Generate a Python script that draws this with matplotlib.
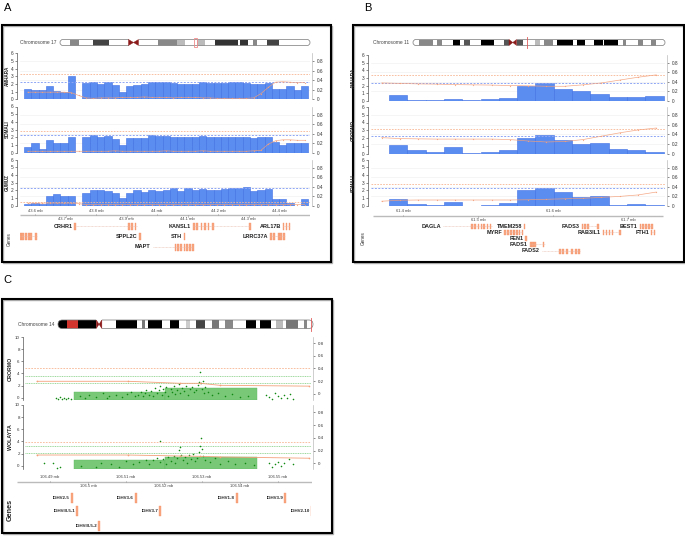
import numpy as np
import matplotlib
matplotlib.use('Agg')
import matplotlib.pyplot as plt
from matplotlib.patches import Rectangle, FancyBboxPatch, Polygon

plt.rcParams['font.family'] = ['Liberation Sans', 'DejaVu Sans']

W, H = 685, 536

# ---------------- panel A : chromosome 17 ----------------
a_bin_start = 43.564
a_bin_size = 0.0239
a_amhara = [1.3, 1.2, 1.2, 1.7, 1.1, 1.0, 3.0, np.nan,
            2.1, 2.3, 2.0, 2.2, 1.9, 1.0, 1.8, 1.9, 2.0, 2.3, 2.2, 2.3, 2.1,
            2.0, 2.0, 2.0, 2.2, 2.1, 2.1, 2.1, 2.2, 2.2, 2.1, 2.0, 2.0, 2.1,
            1.3, 1.3, 1.8, 1.2, 1.7]
a_somali = [0.8, 1.2, 0.5, 1.6, 1.3, 1.2, 2.0, np.nan,
            2.0, 2.3, 2.1, 2.2, 1.8, 1.0, 1.9, 1.9, 1.9, 2.3, 2.2, 2.2, 2.1,
            2.0, 2.0, 2.0, 2.2, 2.1, 2.1, 2.0, 2.1, 2.1, 2.0, 1.9, 2.1, 2.1,
            1.4, 1.0, 1.3, 1.3, 1.2]
a_gumuz = [0.2, 0.35, 0.3, 1.3, 1.5, 1.35, 1.25, np.nan,
           1.7, 2.1, 2.0, 1.95, 1.7, 1.0, 1.7, 2.0, 1.8, 2.1, 1.9, 2.1, 2.3,
           1.9, 2.3, 2.0, 2.2, 2.1, 2.1, 2.2, 2.3, 2.3, 2.4, 1.95, 2.0, 2.2,
           0.9, 0.9, 0.4, np.nan, 0.9]
a_amhara_fst = [0.15, 0.15, 0.15, 0.15, 0.15, 0.15, 0.14, 0.08,
                0.03, 0.02, 0.03, 0.03, 0.03, 0.04, 0.04, 0.04, 0.05, 0.04, 0.04, 0.04,
                0.03, 0.04, 0.04, 0.04, 0.03, 0.03, 0.02, 0.02, 0.02, 0.02, 0.02, 0.03,
                0.12, 0.25, 0.36, 0.37, 0.36, 0.35, 0.35]
a_somali_fst = [0.03, 0.03, 0.03, 0.03, 0.03, 0.03, 0.03, 0.03,
                0.03, 0.03, 0.03, 0.03, 0.04, 0.03, 0.03, 0.03, 0.03, 0.03, 0.03, 0.04,
                0.03, 0.03, 0.03, 0.03, 0.04, 0.03, 0.03, 0.03, 0.03, 0.03, 0.03, 0.04,
                0.05, 0.18, 0.25, 0.27, 0.27, 0.26, 0.26]
a_gumuz_fst = [0.06, 0.06, 0.06, 0.06, 0.06, 0.06, 0.06, 0.05,
               0.03, 0.03, 0.03, 0.03, 0.03, 0.03, 0.03, 0.03, 0.03, 0.03, 0.03, 0.03,
               0.03, 0.03, 0.03, 0.03, 0.03, 0.03, 0.03, 0.03, 0.03, 0.03, 0.03, 0.03,
               0.03, 0.03, 0.03, 0.03, 0.03, 0.03, 0.03]
a_pops = ['AMHARA', 'SOMALI', 'GUMUZ']
a_orange_thr = [0.53, 0.46, 0.08]
a_axis_top = ['43.6 mb', '43.8 mb', '44 mb', '44.2 mb', '44.4 mb']
a_axis_top_pos = [43.6, 43.8, 44.0, 44.2, 44.4]
a_axis_bot = ['43.7 mb', '43.9 mb', '44.1 mb', '44.3 mb']
a_axis_bot_pos = [43.7, 43.9, 44.1, 44.3]
a_gene_names = ['CRHR1', 'KANSL1', 'ARL17B', '', 'SPPL2C', 'STH', 'LRRC37A', 'MAPT']
a_gene_rows = [0, 0, 0, 1, 1, 1, 1, 2]
a_gene_spans = [(43.731, 43.934), (44.118, 44.305), (44.413, 44.436), (43.551, 43.607),
                (43.944, 43.944), (44.090, 44.090), (44.370, 44.420), (43.987, 44.118)]
a_gene_exons = [[43.731, 43.908, 43.918, 43.929],
                [44.121, 44.131, 44.146, 44.157, 44.169, 44.184, 44.305],
                [44.415, 44.425, 44.434],
                [43.554, 43.561, 43.570, 43.580, 43.587, 43.603],
                [43.944], [44.090],
                [44.374, 44.384, 44.400, 44.407, 44.416],
                [44.061, 44.069, 44.079, 44.089, 44.098, 44.108, 44.118]]
chr17_bands = [(0.040, 0.076, '#888888'), (0.130, 0.194, '#444444'), (0.390, 0.468, '#888888'),
               (0.468, 0.501, '#bbbbbb'), (0.548, 0.582, '#bbbbbb'), (0.618, 0.711, '#333333'),
               (0.718, 0.751, '#333333'), (0.771, 0.789, '#888888'), (0.829, 0.876, '#444444')]
chr17_cen = (0.274, 0.314)
chr17_mark = (0.535, 0.548)

# ---------------- panel B : chromosome 11 ----------------
b_bin_start = 61.3813
b_bin_size = 0.0244
b_fst_start = 61.3716
b_amhara = [0.75, 0.15, 0.1, 0.25, 0.1, 0.2, 0.35, 2.0, 2.3, 1.55, 1.3, 0.9, 0.5, 0.5, 0.6]
b_oromo = [1.1, 0.45, 0.15, 0.85, 0.05, 0.15, 0.4, 2.05, 2.35, 1.75, 1.2, 1.35, 0.55, 0.45, 0.25]
b_somali = [0.9, 0.2, 0.1, 0.5, 0.05, 0.1, 0.35, 2.1, 2.3, 1.75, 1.15, 1.3, 0.1, 0.25, 0.1]
b_amhara_fst = [0.38, 0.37, 0.36, 0.355, 0.345, 0.34, 0.335, 0.325, 0.32, 0.31, 0.31,
                0.34, 0.38, 0.44, 0.50, 0.55]
b_oromo_fst = [0.33, 0.31, 0.305, 0.30, 0.30, 0.30, 0.30, 0.29, 0.26, 0.24, 0.25,
               0.29, 0.36, 0.43, 0.49, 0.53]
b_somali_fst = [0.10, 0.12, 0.125, 0.125, 0.125, 0.125, 0.125, 0.125, 0.13, 0.14, 0.15,
                0.16, 0.18, 0.20, 0.23, 0.29]
b_pops = ['AMHARA', 'ORORMO', 'SOMALI']
b_orange_thr = [0.55, 0.50, 0.46]
b_axis_top = ['61.4 mb', '61.6 mb']
b_axis_top_pos = [61.4, 61.6]
b_axis_bot = ['61.5 mb', '61.7 mb']
b_axis_bot_pos = [61.5, 61.7]
b_gene_names = ['DAGLA', 'TMEM258', 'FADS3', 'BEST1', 'MYRF', 'RAB3IL1', 'FTH1', 'FEN1', 'FADS1', 'FADS2']
b_gene_rows = [0, 0, 0, 0, 1, 1, 1, 2, 3, 4]
b_gene_spans = [(61.4533, 61.5187), (61.5620, 61.5620), (61.6387, 61.6600), (61.7160, 61.7320),
                (61.5360, 61.5600), (61.6667, 61.6893), (61.7313, 61.7353), (61.5640, 61.5640),
                (61.5693, 61.5893), (61.5853, 61.6360)]
b_gene_exons = [[61.492, 61.496, 61.501, 61.505, 61.508, 61.513, 61.517],
                [61.562],
                [61.6393, 61.6427, 61.6467, 61.660],
                [61.7167, 61.720, 61.724, 61.728, 61.732],
                [61.536, 61.540, 61.544, 61.547, 61.549, 61.552, 61.555, 61.559],
                [61.6673, 61.6713, 61.6753, 61.6793, 61.6893],
                [61.7313, 61.7353],
                [61.564],
                [61.5707, 61.5733, 61.576, 61.5873],
                [61.6093, 61.6133, 61.6187, 61.6253, 61.6307, 61.6347]]
chr11_bands = [(0.024, 0.079, '#888888'), (0.095, 0.117, '#888888'), (0.159, 0.188, '#000000'),
               (0.201, 0.228, '#555555'), (0.269, 0.321, '#000000'), (0.360, 0.381, '#555555'),
               (0.411, 0.437, '#555555'), (0.483, 0.503, '#bbbbbb'), (0.519, 0.554, '#888888'),
               (0.570, 0.636, '#000000'), (0.652, 0.683, '#000000'), (0.718, 0.752, '#000000'),
               (0.757, 0.813, '#000000'), (0.832, 0.845, '#888888'), (0.894, 0.911, '#888888'),
               (0.943, 0.964, '#888888')]
chr11_cen = (0.381, 0.411)
chr11_mark = (0.454, 0.454)

# ---------------- panel C : chromosome 14 ----------------
c_bin_start = 106.4958
c_bin_size = 0.02445
c_oromo_bars = [1.0, 1.6]
c_wolayta_bars = [1.0, 1.5]
c_oromo_pos = [106.4911, 106.4916, 106.4921, 106.4926, 106.4932, 106.4937, 106.4942, 106.4950,
               106.4974, 106.4989, 106.5000, 106.5018, 106.5037, 106.5047, 106.5053, 106.5071,
               106.5087, 106.5100, 106.5110, 106.5121, 106.5129, 106.5137, 106.5142, 106.5147,
               106.5152, 106.5158, 106.5163, 106.5168, 106.5174, 106.5179, 106.5184, 106.5189,
               106.5192, 106.5197, 106.5202, 106.5205, 106.5210, 106.5216, 106.5221, 106.5226,
               106.5229, 106.5234, 106.5239, 106.5242, 106.5247, 106.5252, 106.5258, 106.5263,
               106.5268, 106.5273, 106.5279, 106.5284, 106.5289, 106.5292, 106.5295, 106.5297,
               106.5300, 106.5303, 106.5305, 106.5308, 106.5316, 106.5326, 106.5342, 106.5360,
               106.5379, 106.5400, 106.5421, 106.5471, 106.5479, 106.5487, 106.5494, 106.5502,
               106.5510, 106.5518, 106.5526, 106.5534, 106.5542]
c_oromo_val = [-0.1, -0.3, 0.1, -0.2, 0.0, -0.3, -0.1, -0.2,
               0.2, -0.1, 0.5, 0.1, 0.7, 0.0, 0.3, 0.4,
               0.1, 0.6, 0.9, 0.2, 0.5, 1.0, 0.3, 0.8,
               1.3, 0.4, 1.1, 0.2, 1.6, 0.7, 1.2, 2.0,
               0.5, 1.4, 0.9, 1.8, 0.3, 1.5, 1.0, 1.9,
               0.6, 1.3, 2.3, 0.8, 1.6, 1.1, 1.9, 0.4,
               1.4, 1.7, 0.9, 1.2, 2.1, 2.6, 4.2, 2.4,
               1.5, 2.7, 0.7, 1.8, 1.0, 0.4, 0.8, 0.2,
               0.6, 0.1, 0.3, 0.4, 0.1, -0.2, 0.7, 0.2,
               -0.1, 0.5, 0.0, 0.6, -0.2]
c_wolayta_pos = [106.4879, 106.4903, 106.4913, 106.4921, 106.4979, 106.5018, 106.5032, 106.5058,
                 106.5079, 106.5097, 106.5116, 106.5132, 106.5150, 106.5158, 106.5168, 106.5179,
                 106.5187, 106.5189, 106.5197, 106.5205, 106.5210, 106.5216, 106.5224, 106.5229,
                 106.5234, 106.5239, 106.5242, 106.5245, 106.5250, 106.5255, 106.5260, 106.5266,
                 106.5271, 106.5276, 106.5281, 106.5287, 106.5292, 106.5295, 106.5297, 106.5300,
                 106.5303, 106.5308, 106.5321, 106.5334, 106.5347, 106.5368, 106.5387, 106.5413,
                 106.5439, 106.5479, 106.5487, 106.5494, 106.5502, 106.5510, 106.5518, 106.5531,
                 106.5542]
c_wolayta_val = [0.4, 0.5, -0.4, -0.3, 0.0, -0.3, 0.5, 0.2,
                 -0.2, 0.8, 0.3, 0.6, 1.0, 0.3, 0.9, 1.3,
                 4.0, 0.6, 1.1, 0.2, 1.4, 0.8, 1.6, 0.4,
                 1.2, 2.5, 3.0, 1.8, 0.9, 1.5, 0.5, 1.7,
                 1.1, 2.0, 0.7, 1.3, 2.2, 3.2, 4.5, 2.8,
                 1.6, 1.0, 0.6, 1.2, 0.3, 0.8, 0.2, 0.5,
                 0.1, 0.5, -0.2, 0.3, 0.6, -0.1, 0.4, 1.1,
                 0.2]
c_fst_pos = [106.4861, 106.5103, 106.5242, 106.5295, 106.5347, 106.5584]
c_oromo_fst = [0.197, 0.197, 0.165, 0.165, 0.133, 0.12]
c_wolayta_fst = [0.13, 0.13, 0.115, 0.11, 0.10, 0.08]
c_pops = ['ORORMO', 'WOLAYTA']
c_axis_top = ['106.49 mb', '106.51 mb', '106.53 mb', '106.55 mb']
c_axis_top_pos = [106.49, 106.51, 106.53, 106.55]
c_axis_bot = ['106.5 mb', '106.52 mb', '106.54 mb']
c_axis_bot_pos = [106.50, 106.52, 106.54]
c_gene_names = ['IGHV2-5', 'IGHV3-6', 'IGHV1-8', 'IGHV3-9', 'IGHVIII-5-1', 'IGHV3-7', 'IGHV2-10', 'IGHVIII-5-2']
c_gene_rows = [0, 0, 0, 0, 1, 1, 1, 2]
c_gene_pos = [106.4953, 106.5124, 106.5392, 106.5521, 106.4968, 106.5189, 106.5592, 106.5026]
chr14_bands = [(0.000, 0.035, '#000000'), (0.035, 0.077, '#d0342c'), (0.077, 0.153, '#000000'),
               (0.228, 0.309, '#000000'), (0.329, 0.342, '#777777'), (0.351, 0.407, '#000000'),
               (0.439, 0.475, '#000000'), (0.502, 0.518, '#cccccc'), (0.541, 0.576, '#444444'),
               (0.605, 0.631, '#777777'), (0.654, 0.687, '#888888'), (0.739, 0.778, '#000000'),
               (0.791, 0.834, '#000000'), (0.854, 0.883, '#bbbbbb'), (0.896, 0.941, '#777777'),
               (0.963, 0.977, '#888888')]
chr14_cen = (0.150, 0.172)
chr14_mark = (0.991, 0.991)

BAR = '#5b8cef'
BAR_EDGE = '#3d6fe3'
ORANGE = '#f4a07a'
BLUE_THR = '#8ea6f5'

fig = plt.figure(figsize=(6.85, 5.36), dpi=100)


def px_axes(x0, y0, x1, y1):
    return fig.add_axes([x0 / W, 1 - y1 / H, (x1 - x0) / W, (y1 - y0) / H])


def ftext(x, y, s, **kw):
    fig.text(x / W, 1 - y / H, s, **kw)


def frame(x0, y0, x1, y1):
    fig.add_artist(Rectangle(((x0 + 1) / W, 1 - (y1 + 1) / H), (x1 - x0) / W, (y1 - y0) / H,
                             transform=fig.transFigure, fill=False, ec='#b0b0b0', lw=1.0))
    fig.add_artist(Rectangle((x0 / W, 1 - y1 / H), (x1 - x0) / W, (y1 - y0) / H,
                             transform=fig.transFigure, fill=False, ec='black', lw=1.5))


def ideogram(x0, y0, x1, y1, bands, cen, mark, label, box_mark=False):
    w, h = x1 - x0, y1 - y0
    ax = px_axes(x0 - 2, y0 - 3, x1 + 2, y1 + 3)
    ax.set_xlim(-2, w + 2)
    ax.set_ylim(-3, h + 3)
    ax.axis('off')
    body = FancyBboxPatch((0, 0), w, h, boxstyle=f'round,pad=0,rounding_size={h / 2}',
                          fc='white', ec='none', zorder=1)
    ax.add_patch(body)
    for f0, f1, c in bands:
        r = Rectangle((f0 * w, 0), (f1 - f0) * w, h, fc=c, ec='none', zorder=2)
        ax.add_patch(r)
        r.set_clip_path(body)
    ax.add_patch(FancyBboxPatch((0, 0), w, h, boxstyle=f'round,pad=0,rounding_size={h / 2}',
                                fill=False, ec='#777777', lw=0.5, zorder=3))
    c0, c1 = cen[0] * w, cen[1] * w
    cm = (c0 + c1) / 2
    ax.add_patch(Rectangle((c0, -1), c1 - c0, h + 2, fc='white', ec='none', zorder=4))
    for cx in (c0, c1):
        ax.add_patch(Polygon([(cx, 0), (cx, h), (cm, h / 2)], fc='#8b1a1a', ec='#8b1a1a',
                             lw=0.3, zorder=5))
    if box_mark:
        ax.add_patch(Rectangle((mark[0] * w, -1.5), (mark[1] - mark[0]) * w, h + 3,
                               fill=False, ec='#f08a8a', lw=0.6, zorder=6))
    else:
        ax.plot([mark[0] * w] * 2, [-2.5, h + 2.5], color='#e05a5a', lw=0.6, zorder=6)
    ftext(x0 - 4, (y0 + y1) / 2, label, ha='right', va='center', fontsize=3.5, color='#444444')


def style_axes(ax, ax2, left_out, right_out, lticks, rticks, lsize=3.4):
    for s in ['top', 'right', 'bottom']:
        ax.spines[s].set_visible(False)
    ax.spines['left'].set_position(('outward', left_out))
    ax.spines['left'].set_color('#555555')
    ax.spines['left'].set_linewidth(0.5)
    ax.set_xticks([])
    ax.set_yticks(lticks)
    ax.set_yticklabels([f'{t:g}' for t in lticks])
    ax.tick_params(axis='y', length=1.5, width=0.4, labelsize=lsize, pad=0.8, colors='#333333')
    for s in ['top', 'left', 'bottom']:
        ax2.spines[s].set_visible(False)
    ax2.spines['right'].set_position(('outward', right_out))
    ax2.spines['right'].set_color('#bbbbbb')
    ax2.spines['right'].set_linewidth(0.5)
    ax2.set_yticks(rticks)
    ax2.set_yticklabels([f'{t:g}' for t in rticks])
    ax2.tick_params(axis='y', length=1.5, width=0.4, labelsize=lsize, pad=2.0, colors='#333333')


def data_track(box, xlim, bin_start, bin_size, vals, fst_pos, fst, ylim2, orange_thr, name, name_x):
    x0, y0, x1, y1 = box
    ax = px_axes(x0, y0, x1, y1)
    starts = bin_start + bin_size * np.arange(len(vals))
    ax.set_xlim(*xlim)
    ax.set_ylim(0, 6)
    for t in [0.2, 0.4, 0.6, 0.8]:
        ax.axhline(t / ylim2[1] * 6, color='#eeeeee', lw=0.4, zorder=0)
    ax.bar(starts, vals, width=bin_size, align='edge', color=BAR, edgecolor=BAR_EDGE,
           lw=0.4, zorder=2)
    ax.axhline(2.3, color=BLUE_THR, lw=0.7, ls=(0, (2, 1.5)), zorder=3)
    ax2 = ax.twinx()
    ax2.set_ylim(*ylim2)
    ax2.axhline(orange_thr, color='#f7b592', lw=0.6, ls=(0, (2, 1.5)), zorder=3)
    ax2.plot(fst_pos, fst, color=ORANGE, lw=0.5, marker='o', ms=0.9, mew=0, alpha=0.9, zorder=4)
    style_axes(ax, ax2, 2.2, 1.5, [0, 1, 2, 3, 4, 5, 6], [0, 0.2, 0.4, 0.6, 0.8])
    ftext(name_x, (y0 + y1) / 2, name, rotation=90, ha='center', va='center',
          fontsize=3.3, fontweight='bold', color='#222222')


def ruler(x0, x1, y, xlim, line_x, top_pos, top_lab, bot_pos, bot_lab):
    ax = px_axes(x0, y - 9, x1, y + 8)
    ax.set_xlim(*xlim)
    ax.set_ylim(y + 8, y - 9)
    ax.axis('off')
    ax.plot(line_x, [y, y], color='#bbbbbb', lw=1.0, solid_capstyle='butt')
    for p, s in zip(top_pos, top_lab):
        ax.plot([p, p], [y - 1.5, y], color='#999999', lw=0.4)
        ax.text(p, y - 4.5, s, ha='center', va='center', fontsize=3.0, color='#444444')
    for p, s in zip(bot_pos, bot_lab):
        ax.plot([p, p], [y, y + 1.5], color='#999999', lw=0.4)
        ax.text(p, y + 4.0, s, ha='center', va='center', fontsize=3.0, color='#444444')


def gene_track(box, xlim, names, rows, spans, exons, row_y, exon_h, exon_w_px, fsize):
    x0, y0, x1, y1 = box
    ax = px_axes(x0, y0, x1, y1)
    ax.set_xlim(*xlim)
    ax.set_ylim(y1, y0)
    ax.axis('off')
    mb_per_px = (xlim[1] - xlim[0]) / (x1 - x0)
    ew = exon_w_px * mb_per_px
    for name, r, (s, e), ex in zip(names, rows, spans, exons):
        yy = row_y[r]
        if e > s:
            ax.plot([s, e], [yy, yy], color='#e6b4a4', lw=0.4, ls=(0, (1.5, 1)))
        for c in ex:
            ax.add_patch(Rectangle((c - ew / 2, yy - exon_h / 2), ew, exon_h,
                                   fc='#f9a882', ec='#f38a5e', lw=0.25))
        if name:
            ax.text(s - 2.2 * mb_per_px, yy, name, ha='right', va='center', fontsize=fsize,
                    fontweight='bold', color='#222222')


# ================= panel A =================
ftext(8, 8, 'A', fontsize=8, ha='center', va='center')
frame(2, 25, 331, 262)
ideogram(60, 39.5, 310, 45.5, chr17_bands, chr17_cen, chr17_mark, 'Chromosome 17', box_mark=True)
a_xlim = (43.5508, 44.5016)
a_centers = a_bin_start + a_bin_size * (np.arange(len(a_amhara)) + 0.5)
a_boxes = [(20, 53.3, 310, 99.3), (20, 106.5, 310, 152.7), (20, 159.5, 310, 206)]
for box, vals, fst, pop, thr in zip(a_boxes, [a_amhara, a_somali, a_gumuz],
                                    [a_amhara_fst, a_somali_fst, a_gumuz_fst], a_pops, a_orange_thr):
    data_track(box, a_xlim, a_bin_start, a_bin_size, vals, a_centers, fst, (0, 0.968), thr, pop, 7)
ruler(20, 310, 215, a_xlim, [43.5508, 44.5016], a_axis_top_pos, a_axis_top, a_axis_bot_pos, a_axis_bot)
gene_track((20, 221, 310, 256), a_xlim, a_gene_names, a_gene_rows, a_gene_spans, a_gene_exons,
           [226, 236, 247], 7, 1.3, 4.0)
ftext(9, 239, 'Genes', rotation=90, ha='center', va='center', fontsize=3.3, color='#333333')

# ================= panel B =================
ftext(368, 8, 'B', fontsize=8, ha='center', va='center')
frame(353, 25, 684, 262)
ideogram(413, 39.5, 665, 45.5, chr11_bands, chr11_cen, chr11_mark, 'Chromosome 11')
b_xlim = (61.3573, 61.7493)
b_fst_x = b_fst_start + b_bin_size * np.arange(len(b_amhara_fst))
b_boxes = [(371, 55, 665, 101), (371, 107, 665, 153.5), (371, 159.5, 665, 206)]
for box, vals, fst, pop, thr in zip(b_boxes, [b_amhara, b_oromo, b_somali],
                                    [b_amhara_fst, b_oromo_fst, b_somali_fst], b_pops, b_orange_thr):
    data_track(box, b_xlim, b_bin_start, b_bin_size, vals, b_fst_x, fst, (0, 0.968), thr, pop, 353)
ruler(371, 665, 216, b_xlim, [61.3600, 61.7460], b_axis_top_pos, b_axis_top, b_axis_bot_pos, b_axis_bot)
gene_track((371, 221, 665, 256), b_xlim, b_gene_names, b_gene_rows, b_gene_spans, b_gene_exons,
           [226, 232, 238, 244.3, 251], 5, 1.3, 4.0)
ftext(363, 238, 'Genes', rotation=90, ha='center', va='center', fontsize=3.3, color='#333333')

# ================= panel C =================
ftext(7, 280, 'C', fontsize=8, ha='center', va='center')
frame(2, 299, 332, 533)
ideogram(58, 320, 313, 328.5, chr14_bands, chr14_cen, chr14_mark, 'Chromosome 14')
c_xlim = (106.48289, 106.55895)
c_boxes = [(25, 337.3, 311, 400), (25, 405, 311, 469.3)]
c_ylims = [(-0.4, 10), (-0.6, 10)]
c_ylims2 = [(-0.1, 0.895), (-0.094, 0.915)]
c_green_thr = [(3.5, 2.4), (3.3, 2.1)]
c_orange_thr = [0.41, 0.34]
for box, bars, pp, pv, fst, pop, yl, yl2, gthr, othr in zip(
        c_boxes, [c_oromo_bars, c_wolayta_bars], [c_oromo_pos, c_wolayta_pos],
        [c_oromo_val, c_wolayta_val], [c_oromo_fst, c_wolayta_fst], c_pops,
        c_ylims, c_ylims2, c_green_thr, c_orange_thr):
    x0, y0, x1, y1 = box
    ax = px_axes(x0, y0, x1, y1)
    ax.set_xlim(*c_xlim)
    ax.set_ylim(*yl)
    starts = c_bin_start + c_bin_size * np.arange(len(bars))
    ax.bar(starts, np.array(bars) - yl[0], bottom=yl[0], width=c_bin_size, align='edge',
           color='#78c878', edgecolor='#62b962', lw=0.3, zorder=2)
    for t in gthr:
        ax.axhline(t, color='#74c874', lw=0.5, ls=(0, (1.5, 1)), zorder=1)
    ax.scatter(pp, pv, s=1.3, color='#128a12', lw=0, zorder=3)
    ax2 = ax.twinx()
    ax2.set_ylim(*yl2)
    ax2.axhline(othr, color='#f7b592', lw=0.6, ls=(0, (2, 1.5)), zorder=3)
    ax2.plot(c_fst_pos, fst, color=ORANGE, lw=0.6, marker='o', ms=1.2, mew=0, zorder=4)
    style_axes(ax, ax2, 1.5, 1.5, [0, 2, 4, 6, 8, 10], [0, 0.2, 0.4, 0.6, 0.8], lsize=3.2)
    ftext(10, (y0 + y1) / 2, pop, rotation=90, ha='center', va='center',
          fontsize=3.8, fontweight='bold', color='#222222')
ruler(17, 312, 482, (106.49 + (17 - 50) / 3800, 106.49 + (312 - 50) / 3800),
      [106.4813, 106.5589], c_axis_top_pos, c_axis_top, c_axis_bot_pos, c_axis_bot)
c_spans = [(p, p) for p in c_gene_pos]
c_exons = [[p] for p in c_gene_pos]
gene_track((25, 490, 311, 532), c_xlim, c_gene_names, c_gene_rows, c_spans, c_exons,
           [497.7, 511, 526], 10, 2.0, 3.2)
ftext(10, 510, 'Genes', rotation=90, ha='center', va='center', fontsize=5.2,
      fontweight='bold', color='#222222')

fig.savefig('out.png', dpi=100)
